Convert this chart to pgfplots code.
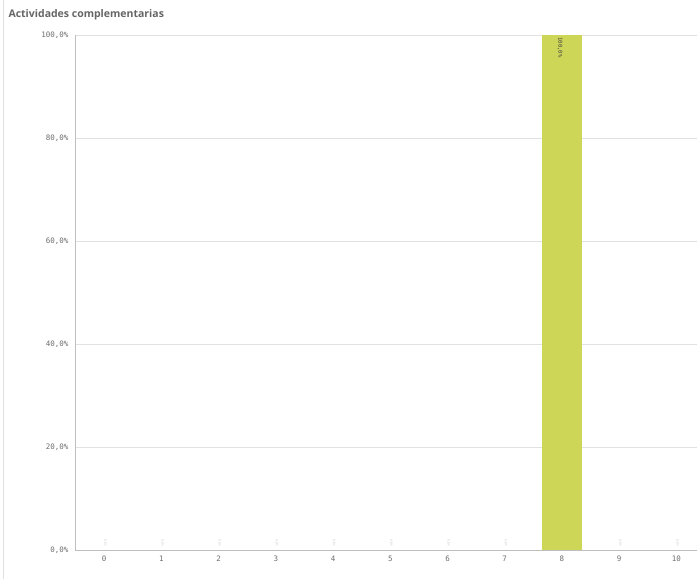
\documentclass[border=0pt]{standalone}
\usepackage{fontspec}
\setmainfont{Open Sans}
\newfontfamily\monofont{DejaVu Sans Mono}
\usepackage{pgfplots}
\pgfplotsset{compat=1.18}
\definecolor{barcol}{RGB}{205,214,86}
\definecolor{tickgray}{RGB}{110,110,110}
\definecolor{gridgray}{RGB}{225,225,225}
\definecolor{axisgray}{RGB}{190,190,190}
\begin{document}
\begin{tikzpicture}
\path[use as bounding box, fill=white] (0,0) rectangle (697pt,579pt);
\draw[gray!25, line width=1pt] (3pt,0) -- (3pt,579pt);
\node[anchor=west, text=black!60, font=\fontsize{10.5}{12}\selectfont\bfseries] at (5pt,564pt) {Actividades complementarias};
\begin{axis}[
  at={(75pt,29pt)}, anchor=south west,
  scale only axis, width=622pt, height=515pt,
  xmin=-0.51, xmax=10.36, ymin=0, ymax=100,
  xtick={0,1,2,3,4,5,6,7,8,9,10},
  ytick={0,20,40,60,80,100},
  yticklabels={{0,0\%},{20,0\%},{40,0\%},{60,0\%},{80,0\%},{100,0\%}},
  /pgf/number format/assume math mode=true,
  ticklabel style={font=\monofont\fontsize{7.5}{8}\selectfont, text=tickgray},
  ymajorgrids, grid style={gridgray, line width=0.6pt},
  axis line style={axisgray, line width=0.8pt},
  axis x line*=bottom, axis y line*=left,
  tick style={draw=none},
  xticklabel style={yshift=-2pt},
  yticklabel style={xshift=-3pt},
  axis on top=false,
]
\addplot[ybar, bar width=40pt, fill=barcol, draw=none,
  nodes near coords={100,0\%},
  every node near coord/.style={rotate=-90, anchor=west, font=\monofont\fontsize{5.5}{6}\selectfont, text=black!75, xshift=-1pt, yshift=-2pt}]
  coordinates {(8,100)};
\addplot[ybar, bar width=40pt, draw=none, fill=none,
  nodes near coords={0,0\%},
  every node near coord/.style={rotate=-90, anchor=east, font=\monofont\fontsize{3}{3.5}\selectfont, text=black!20, yshift=1pt}]
  coordinates {(0,0) (1,0) (2,0) (3,0) (4,0) (5,0) (6,0) (7,0) (9,0) (10,0)};
\end{axis}
\end{tikzpicture}
\end{document}
